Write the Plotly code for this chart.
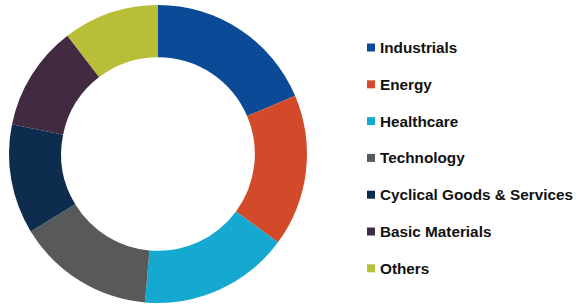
import plotly.graph_objects as go

categories = ["Industrials", "Energy", "Healthcare", "Technology",
              "Cyclical Goods & Services", "Basic Materials", "Others"]
shares = [18.6, 16.5, 16.3, 14.9, 11.9, 11.4, 10.4]
colors = ["#0B4A96", "#D24A2A", "#15A8D1", "#58595B", "#0E2D4E", "#432A43", "#B8BE38"]

W, H = 576, 304

fig = go.Figure(go.Pie(
    labels=categories, values=shares, sort=False, direction="clockwise",
    rotation=0, hole=0.65, textinfo="none", hoverinfo="label+percent",
    marker=dict(colors=colors, line=dict(color="white", width=0)),
    domain=dict(x=[9 / W, 307 / W], y=[1 / H, 299 / H]),
    showlegend=False,
))

row0, step = 47.5, 36.8
for i, (name, col) in enumerate(zip(categories, colors)):
    yc = row0 + i * step
    fig.add_shape(type="rect", xref="paper", yref="paper",
                  x0=367 / W, x1=375 / W, y0=1 - (yc + 4) / H, y1=1 - (yc - 4) / H,
                  fillcolor=col, line=dict(width=0))
    fig.add_annotation(x=378 / W, y=1 - yc / H, xref="paper", yref="paper",
                       xanchor="left", yanchor="middle", showarrow=False,
                       text="<b>" + name + "</b>",
                       font=dict(family="Liberation Sans, Arial", size=15.3, color="#111111"))

fig.update_layout(width=W, height=H, margin=dict(l=0, r=0, t=0, b=0),
                  paper_bgcolor="white", plot_bgcolor="white")
fig.write_html("out.html", config={"displayModeBar": False},
               post_script="document.body.style.margin='0';document.body.style.overflow='hidden';")
